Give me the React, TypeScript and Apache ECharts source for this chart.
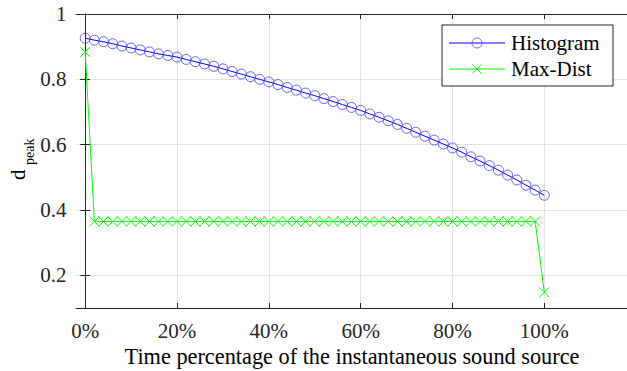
import React, { useEffect, useRef } from "react";
import * as echarts from "echarts";

const timePct = [
  0, 2, 4, 6, 8, 10, 12, 14, 16, 18, 20, 22, 24, 26, 28, 30, 32, 34, 36, 38, 40,
  42, 44, 46, 48, 50, 52, 54, 56, 58, 60, 62, 64, 66, 68, 70, 72, 74, 76, 78, 80,
  82, 84, 86, 88, 90, 92, 94, 96, 98, 100,
];

const histogram = [
  0.926, 0.92, 0.915, 0.909, 0.902, 0.896, 0.89, 0.884, 0.878, 0.873, 0.868,
  0.861, 0.854, 0.847, 0.84, 0.832, 0.824, 0.816, 0.808, 0.8, 0.792,
  0.784, 0.775, 0.767, 0.758, 0.75, 0.741, 0.732, 0.723, 0.714, 0.705,
  0.694, 0.684, 0.673, 0.662, 0.65, 0.638, 0.626, 0.614, 0.602, 0.59,
  0.577, 0.563, 0.55, 0.536, 0.522, 0.507, 0.492, 0.476, 0.461, 0.445,
];

const maxDist = [
  0.884, 0.365, 0.365, 0.365, 0.365, 0.365, 0.365, 0.365, 0.365, 0.365, 0.365,
  0.365, 0.365, 0.365, 0.365, 0.365, 0.365, 0.365, 0.365, 0.365, 0.365,
  0.365, 0.365, 0.365, 0.365, 0.365, 0.365, 0.365, 0.365, 0.365, 0.365,
  0.365, 0.365, 0.365, 0.365, 0.365, 0.365, 0.365, 0.365, 0.365, 0.365,
  0.365, 0.365, 0.365, 0.365, 0.365, 0.365, 0.365, 0.365, 0.365, 0.148,
];

const xTicks = [0, 20, 40, 60, 80, 100];
const xTickLabels = ["0%", "20%", "40%", "60%", "80%", "100%"];
const yTicks = [0.2, 0.4, 0.6, 0.8, 1];
const yTickLabels = ["0.2", "0.4", "0.6", "0.8", "1"];
const seriesNames = ["Histogram", "Max-Dist"];
const xTitle = "Time percentage of the instantaneous sound source";

const FONT = "Liberation Serif";
const FS = 21;
const AX = "#262626";
const BLUE = "#0000ff";
const BLUE_MK = "rgba(70,70,255,0.8)";
const GREEN = "#00ff00";
const CIRCLE = "path://M10,5A5,5,0,1,1,0,5A5,5,0,1,1,10,5Z";
const CROSS = "path://M0,0L10,10M10,0L0,10";

function measure(text: string, size: number): number {
  const c = document.createElement("canvas").getContext("2d");
  if (!c) return text.length * size * 0.45;
  c.font = `${size}px "${FONT}"`;
  return c.measureText(text).width;
}

export default function App() {
  const ref = useRef<HTMLDivElement>(null);
  useEffect(() => {
    if (!ref.current) return;
    const chart = echarts.init(ref.current, undefined, { renderer: "svg" });
    const xMin = -2;
    const xMax = 118;
    const yMin = 0.1;
    const yMax = 1;
    const commonX = { type: "value", min: xMin, max: xMax };
    const commonY = { type: "value", min: yMin, max: yMax };
    chart.setOption({
      animation: false,
      backgroundColor: "#fff",
      grid: { left: 76, right: -1, top: 14, bottom: 63, containLabel: false },
      xAxis: [
        {
          ...commonX,
          position: "bottom",
          axisLine: { show: true, lineStyle: { color: AX, width: 1 } },
          axisTick: { show: true, inside: true, length: 5, customValues: xTicks, lineStyle: { color: AX } },
          axisLabel: { show: false },
          splitLine: { show: true, lineStyle: { color: "#e3e3e3", width: 1 } },
        },
        {
          ...commonX,
          position: "top",
          axisLine: { show: true, lineStyle: { color: AX, width: 1 } },
          axisTick: { show: true, inside: true, length: 5, customValues: xTicks, lineStyle: { color: AX } },
          axisLabel: { show: false },
          splitLine: { show: false },
        },
      ],
      yAxis: [
        {
          ...commonY,
          position: "left",
          axisLine: { show: true, lineStyle: { color: AX, width: 1 } },
          axisTick: { show: true, inside: true, length: 5, customValues: yTicks, lineStyle: { color: AX } },
          axisLabel: { show: false },
          splitLine: { show: true, lineStyle: { color: "#e3e3e3", width: 1 } },
        },
        {
          ...commonY,
          position: "right",
          axisLine: { show: true, lineStyle: { color: AX, width: 1 } },
          axisTick: { show: true, inside: true, length: 5, customValues: yTicks, lineStyle: { color: AX } },
          axisLabel: { show: false },
          splitLine: { show: false },
        },
      ],
      series: [
        {
          name: seriesNames[0],
          type: "line",
          xAxisIndex: 0,
          yAxisIndex: 0,
          data: timePct.map((x, i) => [x, histogram[i]]),
          symbol: CIRCLE,
          symbolSize: 10,
          showAllSymbol: true,
          lineStyle: { color: BLUE, width: 1 },
          itemStyle: { color: "rgba(0,0,0,0)", borderColor: BLUE_MK, borderWidth: 1 },
          z: 3,
        },
        {
          name: seriesNames[1],
          type: "line",
          xAxisIndex: 0,
          yAxisIndex: 0,
          data: timePct.map((x, i) => [x, maxDist[i]]),
          symbol: CROSS,
          symbolSize: 10,
          showAllSymbol: true,
          lineStyle: { color: GREEN, width: 1 },
          itemStyle: { color: "rgba(0,0,0,0)", borderColor: GREEN, borderWidth: 1 },
          z: 2,
        },
      ],
    });

    const toPx = (x: number, y: number) =>
      chart.convertToPixel({ xAxisIndex: 0, yAxisIndex: 0 }, [x, y]) as number[];
    const bottomY = toPx(0, yMin)[1];
    const leftX = toPx(xMin, 0)[0];
    const rightX = toPx(xMax, 0)[0];

    const txt = (text: string, left: number, top: number, size = FS, fill = AX) => ({
      type: "text",
      x: left,
      y: top,
      z: 63,
      style: { text, fontFamily: FONT, fontSize: size, fill },
    });
    const centered = (text: string, cx: number, cy: number, size = FS, fill = AX) =>
      txt(text, cx - measure(text, size) / 2, cy - size / 2, size, fill);
    const rightAligned = (text: string, rx: number, cy: number, size = FS, fill = AX) =>
      txt(text, rx - measure(text, size), cy - size / 2, size, fill);

    const lgX = 442;
    const lgY = 25;
    const rows = [43, 69];
    const legendShapes: any[] = [
      {
        type: "rect",
        z: 60,
        shape: { x: lgX, y: lgY, width: 171, height: 61 },
        style: { fill: "#fff", stroke: AX, lineWidth: 1 },
      },
      {
        type: "line",
        z: 61,
        shape: { x1: lgX + 7, y1: rows[0], x2: lgX + 63, y2: rows[0] },
        style: { stroke: BLUE, lineWidth: 1 },
      },
      {
        type: "circle",
        z: 62,
        shape: { cx: lgX + 35, cy: rows[0], r: 5 },
        style: { fill: "none", stroke: BLUE_MK, lineWidth: 1 },
      },
      {
        type: "line",
        z: 61,
        shape: { x1: lgX + 7, y1: rows[1], x2: lgX + 63, y2: rows[1] },
        style: { stroke: GREEN, lineWidth: 1 },
      },
      {
        type: "line",
        z: 62,
        shape: { x1: lgX + 30.5, y1: rows[1] - 4.5, x2: lgX + 39.5, y2: rows[1] + 4.5 },
        style: { stroke: GREEN, lineWidth: 1 },
      },
      {
        type: "line",
        z: 62,
        shape: { x1: lgX + 39.5, y1: rows[1] - 4.5, x2: lgX + 30.5, y2: rows[1] + 4.5 },
        style: { stroke: GREEN, lineWidth: 1 },
      },
    ];

    const graphics: any[] = [
      ...legendShapes,
      txt(seriesNames[0], lgX + 69, rows[0] - FS / 2, FS, "#000"),
      txt(seriesNames[1], lgX + 69, rows[1] - FS / 2, FS, "#000"),
      ...xTicks.map((v, i) => centered(xTickLabels[i], toPx(v, yMin)[0], bottomY + 23)),
      ...yTicks.map((v, i) => rightAligned(yTickLabels[i], leftX - 9.5, toPx(xMin, v)[1])),
      centered(xTitle, (leftX + rightX) / 2 + 0.5, bottomY + 49, 22.3, "#000"),
      {
        type: "text",
        x: 17.7 - FS / 2,
        y: 180,
        rotation: Math.PI / 2,
        z: 63,
        style: { text: "d", fontFamily: FONT, fontSize: FS, fill: "#000" },
      },
      {
        type: "text",
        x: 29.5 - 7,
        y: 165,
        rotation: Math.PI / 2,
        z: 63,
        style: { text: "peak", fontFamily: FONT, fontSize: 14, fill: "#000" },
      },
    ];
    chart.setOption({ graphic: graphics });

    return () => chart.dispose();
  }, []);
  return (
    <div
      ref={ref}
      style={{ position: "fixed", left: 0, top: 0, width: 627, height: 371, background: "#fff" }}
    />
  );
}
